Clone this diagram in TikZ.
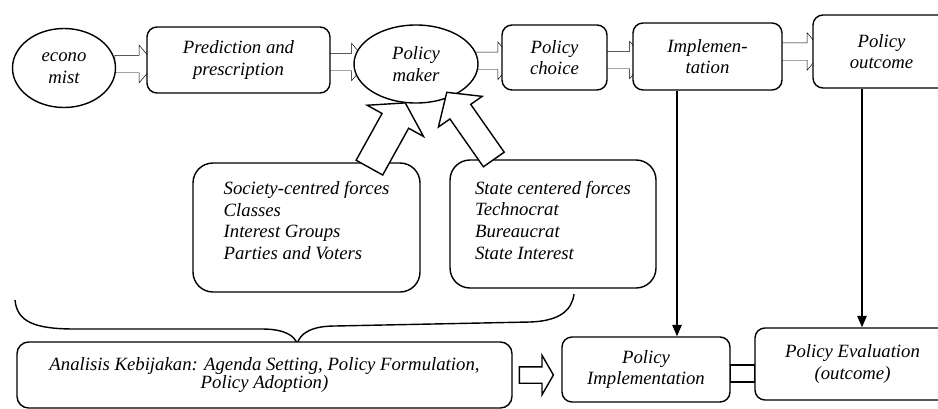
\documentclass[tikz,border=0pt]{standalone}
\usepackage{fontspec}
\setmainfont{Liberation Serif}
\usetikzlibrary{arrows.meta,shapes.geometric,shapes.arrows,positioning,calc,backgrounds}

\begin{document}
\begin{tikzpicture}[x=0.3mm,y=-0.3mm,>={Triangle[length=3.4mm,width=2.8mm]},line width=1.2pt,
        font=\fontsize{16}{18.5}\selectfont\itshape]
        \tikzstyle{actor}=[ellipse,draw,fill=white,align=center,inner sep=0pt]
        \tikzstyle{stage}=[rectangle,rounded corners=3mm,draw,fill=white,align=center,inner sep=0pt]
        \tikzstyle{forces}=[rectangle,rounded corners=6mm,draw,fill=white,align=left,inner sep=0pt]
        \tikzstyle{hollow}=[single arrow,draw,fill=white,inner xsep=0pt,inner ysep=0.255cm,minimum width=1.1cm,
            single arrow head extend=0.3cm,single arrow tip angle=100]
        \tikzstyle{push}=[single arrow,draw,fill=white,inner xsep=0pt]
        \useasboundingbox (0,0) rectangle (938,408);
        % top row
        \node[actor,minimum width=3.09cm,minimum height=2.37cm] (eco) at (64,68) {econo\\mist};
        \node[stage,minimum width=5.49cm,minimum height=1.98cm] (pred) at (238.5,60) {Prediction and\\prescription};
        \node[actor,minimum width=3.72cm,minimum height=2.34cm] (maker) at (416,64) {Policy\\maker};
        \node[stage,minimum width=3.15cm,minimum height=1.95cm] (choice) at (554.5,57.5) {Policy\\choice};
        \node[stage,minimum width=4.47cm,minimum height=2.01cm] (impl) at (707.5,56.5) {Implemen-\\tation};
        \node[stage,minimum width=4.11cm,minimum height=2.19cm] (outcome) at (881.5,51.5) {Policy\\outcome};
        \begin{scope}[on background layer]
        \node[hollow,minimum height=1.2cm] (a1) at ($(eco.east)!.5!(pred.west)$) {};
        \node[hollow,minimum height=1.3cm] (a2) at ($(pred.east)!.5!(maker.west)$) {};
        \node[hollow,minimum height=1.2cm] (a3) at ($(maker.east)!.5!(choice.west)$) {};
        \node[hollow,minimum height=1.3cm,yshift=-0.09cm] (a4) at ($(choice.east)!.5!(impl.west)$) {};
        \node[hollow,minimum height=1.3cm,yshift=0.075cm] (a5) at ($(impl.east)!.5!(outcome.west)$) {};
        \end{scope}
        % forces
        \node[forces,minimum width=6.81cm,minimum height=3.87cm] (society) at (306.5,227.5)
            {Society-centred forces\\Classes\\Interest Groups\\Parties and Voters\rule[-0.42cm]{0pt}{0pt}};
        \node[forces,minimum width=6.18cm,minimum height=3.84cm] (state) at (553,224)
            {State centered forces\\Technocrat\\Bureaucrat\\State Interest\rule[-0.24cm]{0pt}{0pt}};
        \node[push,minimum height=2.22cm,minimum width=1.89cm,inner ysep=0.435cm,single arrow head extend=0.51cm,
            single arrow tip angle=115,rotate=61] (sup1) at (385,139.5) {};
        \node[push,minimum height=2.46cm,minimum width=1.56cm,inner ysep=0.36cm,single arrow head extend=0.42cm,
            single arrow tip angle=97,rotate=125] (sup2) at (473.5,130.5) {};
        % bottom row
        \draw (15,300) .. controls (17,322) and (35,329) .. (75,329) -- (262,329)
            .. controls (285,329) and (295,336) .. (297,344)
            .. controls (300,334) and (310,326) .. (335,326) -- (530,322)
            .. controls (560,321) and (572,310) .. (574,294);
        \node[stage,rounded corners=3.5mm,minimum width=14.85cm,minimum height=1.98cm,
            font=\fontsize{16}{15.5}\selectfont\itshape] (analysis) at (264.5,375)
            {Analisis Kebijakan: Agenda Setting, Policy Formulation,\\Policy Adoption)};
        \node[stage,minimum width=5.04cm,minimum height=1.95cm] (pimpl) at (646,369.5) {Policy\\Implementation};
        \node[stage,minimum width=5.85cm,minimum height=2.16cm] (peval) at (852.5,364) {Policy Evaluation\\(outcome)};
        \node[hollow,minimum height=1.02cm,minimum width=1.14cm,inner ysep=0.225cm,single arrow head extend=0.345cm,
            single arrow tip angle=120,right=0.18cm of analysis] (a6) {};
        \draw ([yshift=0.135cm]pimpl.east) rectangle ([yshift=-0.54cm]peval.west);
        \draw[->] ([xshift=-0.915cm]impl.south) coordinate (v1) -- (v1 |- pimpl.north);
        \draw[->] ([xshift=-0.585cm]outcome.south) coordinate (v2) -- (v2 |- peval.north);
\end{tikzpicture}
\end{document}
